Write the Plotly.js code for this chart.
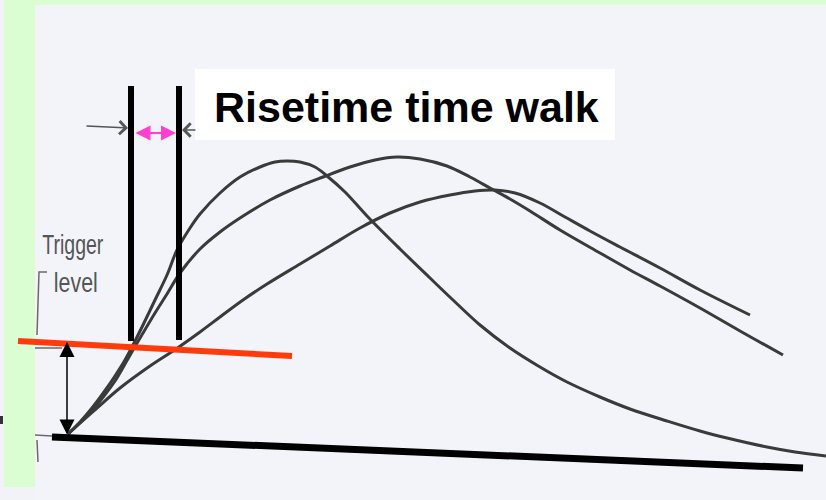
<!DOCTYPE html>
<html>
<head>
<meta charset="utf-8">
<script src="https://cdn.plot.ly/plotly-3.0.1.min.js"></script>
<style>
  html, body { margin: 0; padding: 0; background: #dbfdd2; }
  #chart { width: 826px; height: 500px; }
</style>
</head>
<body>
<div id="chart"></div>
<script>
// Three detector pulses with different rise times (time vs. signal level)
const fastT = [68, 80, 92, 104, 115, 125, 133, 143, 155, 167, 177, 190, 200, 220, 240, 260, 275, 287, 300, 315, 327, 345, 367, 400, 430, 453, 480, 510, 540, 567, 600, 630, 667, 700, 727, 767, 795, 826];
const fastV = [66, 78, 92, 108, 124, 140, 155, 175, 200, 225, 250, 272, 286, 307, 323, 333, 338, 339, 338, 333, 324, 308, 284, 251, 222, 200, 175, 152, 133, 118, 103, 91, 79, 69, 62, 53, 48, 44];

const midT = [68, 80, 92, 104, 115, 125, 133, 143, 155, 167, 180, 200, 220, 240, 270, 300, 323, 350, 375, 397, 420, 447, 470, 490, 510, 530, 560, 600, 630, 660, 700, 740, 783];
const midV = [66, 77, 89, 104, 119, 136, 150, 167, 187, 206, 227, 251, 268, 282, 300, 314, 323, 333, 340, 343, 341, 334, 323, 312, 301, 289, 270, 247, 230, 214, 192, 169, 145];

const slowT = [68, 80, 97, 120, 150, 176, 200, 220, 243, 267, 300, 330, 360, 390, 420, 450, 475, 495, 515, 540, 565, 590, 620, 660, 700, 750];
const slowV = [66, 77, 92, 112, 134, 151, 168, 183, 200, 216, 236, 254, 272, 287, 298, 305, 309, 310, 307, 297, 283, 269, 253, 232, 210, 185];

// Trigger threshold and baseline
const triggerT = [18, 292];
const triggerV = [159, 144];
const baseT = [52, 803];
const baseV = [63, 32];

// Threshold crossing times of the earliest and latest pulses
const crossT1 = [131, 131];
const crossV1 = [414, 159];
const crossT2 = [179, 179];
const crossV2 = [414, 160];

// Trigger level marker (arrow between baseline and threshold)
const levelT = 67;
const levelV = [158, 64];

// Printed figure details: threshold stub, baseline stub, bracket, tick
const stubT = [35, 62];
const stubV = [152, 152];
const baseStubT = [35, 52];
const baseStubV = [65, 64];
const bracketT = [47, 39, 37];
const bracketV = [228, 228, 165];
const tickT = [37, 38];
const tickV = [60, 38];

const titleText = 'Risetime time walk';
const labelTop = 'Trigger';
const labelBottom = 'level';

const pulseLine = { color: '#3a3a3a', width: 3, shape: 'spline', smoothing: 1 };
const printGray = { color: '#6a6a6a', width: 1.5 };

const traces = [
  { x: stubT, y: stubV, mode: 'lines', line: printGray },
  { x: baseStubT, y: baseStubV, mode: 'lines', line: printGray },
  { x: bracketT, y: bracketV, mode: 'lines', line: printGray },
  { x: tickT, y: tickV, mode: 'lines', line: printGray },
  { x: fastT, y: fastV, mode: 'lines', line: pulseLine },
  { x: midT, y: midV, mode: 'lines', line: pulseLine },
  { x: slowT, y: slowV, mode: 'lines', line: pulseLine },
  { x: baseT, y: baseV, mode: 'lines', line: { color: '#000000', width: 7 } },
  { x: triggerT, y: triggerV, mode: 'lines', line: { color: '#ff3b0c', width: 6 } },
  { x: crossT1, y: crossV1, mode: 'lines', line: { color: '#000000', width: 6 } },
  { x: crossT2, y: crossV2, mode: 'lines', line: { color: '#000000', width: 6 } }
];

const arrowBase = { xref: 'x', yref: 'y', axref: 'x', ayref: 'y', text: '', showarrow: true, standoff: 0, startstandoff: 0 };
const labelFont = { family: 'Liberation Sans, Arial, sans-serif', size: 28, color: '#555555' };

const annotations = [
  // time-walk interval between the two crossings
  Object.assign({}, arrowBase, {
    x: crossT2[0] - 3, y: 367, ax: crossT1[0] + 3, ay: 367,
    arrowside: 'end+start', arrowhead: 2, startarrowhead: 2,
    arrowsize: 1.5, startarrowsize: 1.5, arrowwidth: 2, arrowcolor: '#ff3fcf'
  }),
  // trigger level height
  Object.assign({}, arrowBase, {
    x: levelT, y: levelV[0], ax: levelT, ay: levelV[1],
    arrowside: 'end+start', arrowhead: 2, startarrowhead: 2,
    arrowsize: 2, startarrowsize: 2, arrowwidth: 1.5, arrowcolor: '#000000'
  }),
  // printed pointer arrows
  Object.assign({}, arrowBase, {
    x: 128, y: 372, ax: 85, ay: 374,
    arrowhead: 4, arrowsize: 1.6, arrowwidth: 1.6, arrowcolor: '#555555'
  }),
  Object.assign({}, arrowBase, {
    x: 182, y: 370, ax: 197, ay: 370,
    arrowhead: 4, arrowsize: 1.6, arrowwidth: 1.6, arrowcolor: '#555555'
  }),
  {
    xref: 'x', yref: 'y', x: 406, y: 393, showarrow: false,
    text: '<b>' + titleText + '</b>',
    font: { family: 'Liberation Sans, Arial, sans-serif', size: 43, color: '#000000' },
    xanchor: 'center', yanchor: 'middle'
  },
  {
    xref: 'x', yref: 'y', x: 73, y: 256, showarrow: false, text: labelTop,
    font: labelFont, xanchor: 'center', yanchor: 'middle'
  },
  {
    xref: 'x', yref: 'y', x: 76, y: 218, showarrow: false, text: labelBottom,
    font: labelFont, xanchor: 'center', yanchor: 'middle'
  }
];

const shapes = [
  // printed page area
  { type: 'rect', xref: 'x', yref: 'y', x0: 35, x1: 826, y0: 0, y1: 495, fillcolor: '#f2f4f9', line: { width: 0 }, layer: 'below' },
  // strip of the neighbouring page on the left
  { type: 'rect', xref: 'x', yref: 'y', x0: 0, x1: 4, y0: 0, y1: 500, fillcolor: '#f1f3f7', line: { width: 0 }, layer: 'below' },
  { type: 'rect', xref: 'x', yref: 'y', x0: 0, x1: 35, y0: 0, y1: 13, fillcolor: '#f1f3f7', line: { width: 0 }, layer: 'below' },
  { type: 'rect', xref: 'x', yref: 'y', x0: 0, x1: 3, y0: 76, y1: 84, fillcolor: '#333333', line: { width: 0 }, layer: 'below' },
  // title box
  { type: 'rect', xref: 'x', yref: 'y', x0: 195, x1: 615, y0: 360, y1: 431, fillcolor: '#ffffff', line: { width: 0 }, layer: 'below' }
];

const layout = {
  width: 826,
  height: 500,
  margin: { l: 0, r: 0, t: 0, b: 0, pad: 0 },
  paper_bgcolor: '#dbfdd2',
  plot_bgcolor: 'rgba(0,0,0,0)',
  showlegend: false,
  xaxis: { range: [0, 826], visible: false, fixedrange: true },
  yaxis: { range: [0, 500], visible: false, fixedrange: true },
  shapes: shapes,
  annotations: annotations
};

// The printed label uses a condensed face: squeeze the two label lines horizontally
const condensedWidths = { 'Trigger': 61, 'level': 44 };

Plotly.newPlot('chart', traces, layout, { staticPlot: true, displayModeBar: false }).then(function (gd) {
  gd.querySelectorAll('text.annotation-text').forEach(function (el) {
    const w = condensedWidths[el.textContent];
    if (w) {
      el.setAttribute('textLength', w);
      el.setAttribute('lengthAdjust', 'spacingAndGlyphs');
    }
  });
});
</script>
</body>
</html>
